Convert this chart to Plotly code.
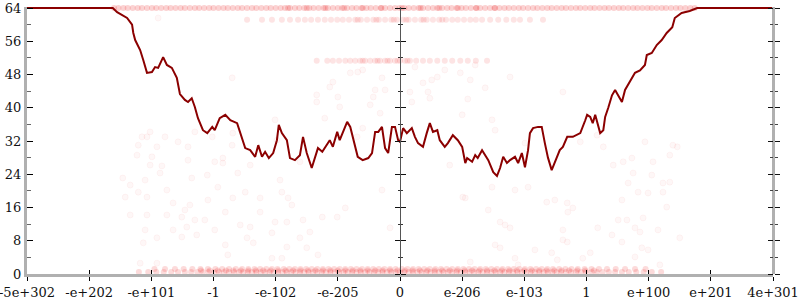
import plotly.graph_objects as go

# ---------------- data ----------------
TICK_VALS = [-6, -5, -4, -3, -2, -1, 0, 1, 2, 3, 4, 5, 6]
TICK_TEXT = ["-5e+302", "-e+202", "-e+101", "-1", "-e-102", "-e-205", "0",
             "e-206", "e-103", "1", "e+100", "e+201", "4e+301"]

LINE_X = [-6.0, -4.62, -4.55, -4.47, -4.39, -4.31, -4.29, -4.26, -4.18, -4.13, -4.07,
          -3.99, -3.94, -3.89, -3.81, -3.75, -3.67, -3.59, -3.54, -3.46, -3.41, -3.35,
          -3.30, -3.25, -3.22, -3.17, -3.10, -3.02, -2.98, -2.90, -2.81, -2.73, -2.62,
          -2.57, -2.49, -2.41, -2.33, -2.28, -2.22, -2.17, -2.11, -2.04, -1.98, -1.95,
          -1.90, -1.82, -1.77, -1.69, -1.61, -1.56, -1.50, -1.42, -1.37, -1.32, -1.25,
          -1.21, -1.13, -1.08, -1.01, -0.97, -0.85, -0.80, -0.76, -0.68, -0.60, -0.51,
          -0.45, -0.40, -0.35, -0.29, -0.24, -0.19, -0.13, -0.08, -0.03, 0.0, 0.05,
          0.11, 0.19, 0.24, 0.29, 0.37, 0.43, 0.48, 0.53, 0.60, 0.64, 0.72, 0.77, 0.85,
          0.93, 1.00, 1.05, 1.08, 1.16, 1.21, 1.25, 1.32, 1.42, 1.50, 1.56, 1.61, 1.66,
          1.72, 1.77, 1.85, 1.90, 1.96, 2.01, 2.06, 2.09, 2.14, 2.22, 2.28, 2.33, 2.38,
          2.44, 2.53, 2.57, 2.62, 2.69, 2.78, 2.90, 2.98, 3.01, 3.06, 3.10, 3.14, 3.22,
          3.27, 3.30, 3.35, 3.41, 3.46, 3.51, 3.57, 3.62, 3.70, 3.78, 3.86, 3.94, 3.97,
          4.05, 4.13, 4.21, 4.29, 4.38, 4.42, 4.53, 4.66, 4.78, 6.0]
LINE_Y = [64, 64, 63, 62.3, 61.6, 60, 58, 56.3, 53.9, 51.5, 48.4,
          48.6, 49.8, 49.6, 52.2, 50.3, 49.6, 47.2, 43.3, 41.9, 41.4, 42.3,
          40.2, 37.5, 36.3, 34.6, 33.9, 35.4, 34.6, 37.5, 38.3, 37, 36.3,
          33.9, 30.3, 29.8, 28.2, 31, 28.2, 29.4, 27.9, 29.1, 32.2, 35.9,
          33.9, 32.2, 27.9, 27.4, 28.6, 33, 29.1, 25.5, 28.2, 30.3, 29.4,
          30.3, 32.2, 30.6, 34.2, 32.2, 36.6, 35.4, 33, 28.2, 27.4, 27.9,
          29.1, 34.2, 34.2, 35.4, 30.3, 29.1, 35.4, 35.4, 32.2, 31.8, 35.1,
          33.9, 35.1, 33, 31.5, 30.6, 33.9, 36.3, 34.2, 34.6, 32.2, 30.6, 31.5, 33.4,
          32.2, 30.6, 26.7, 27.9, 27, 28.6, 27.9, 29.8, 27.4, 24.5, 23.6, 25.5, 28.2,
          26.7, 27.4, 28.2, 26.7, 29.1, 25.7, 29.8, 33.9, 35.1, 35.4, 35.4, 31.5, 28,
          25, 28.2, 29.8, 30.6, 33, 33, 33.9, 37, 38.3, 37.8, 36.3, 38.3, 33.9,
          34.6, 37.8, 40, 43, 44.3, 43, 41.4, 44.3, 46.2, 48.4, 49, 50.3, 52.7,
          53.2, 55.1, 56.3, 58, 59.4, 61.6, 62.8, 63.3, 64, 64]

BAND64_X = [-4.60, -4.53, -4.45, -4.38, -4.30, -4.22, -4.15, -4.07, -3.99, -3.92, -3.84,
            -3.76, -3.69, -3.61, -3.53, -3.46, -3.38, -3.30, -3.23, -3.15, -3.07, -3.00,
            -2.92, -2.84, -2.77, -2.69, -2.61, -2.54, -2.46, -2.38, -2.31, -2.23, -2.15,
            -2.08, -2.00, -1.92, -1.85, -1.77, -1.69, -1.62, -1.54, -1.46, -1.39, -1.31,
            -1.23, -1.16, -1.08, -1.00, -0.93, -0.85, -0.77, -0.70, -0.62, -0.54, -0.47,
            -0.39, -0.31, -0.24, -0.16, -0.08, -0.01, 0.07, 0.14, 0.22, 0.30, 0.37, 0.45,
            0.53, 0.60, 0.68, 0.76, 0.83, 0.91, 0.99, 1.06, 1.14, 1.22, 1.29, 1.37, 1.45,
            1.52, 1.60, 1.68, 1.75, 1.83, 1.91, 1.98, 2.06, 2.14, 2.21, 2.29, 2.37, 2.44,
            2.52, 2.60, 2.67, 2.75, 2.83, 2.90, 2.98, 3.06, 3.13, 3.21, 3.29, 3.36, 3.44,
            3.52, 3.59, 3.67, 3.75, 3.82, 3.90, 3.98, 4.05, 4.13, 4.21, 4.28, 4.36, 4.44,
            4.51, 4.59, 4.67, 4.74,
            -1.80, -1.50, -1.20, -0.90, -0.60, -0.30, 0.03, 0.33, 0.63, 0.93, 1.23, 1.53]
BAND64_Y = 64

BAND61_X = [-2.46, -2.22, -2.06, -1.90, -1.77, -1.64, -1.53, -1.43, -1.32, -1.21, -1.11,
            -1.01, -0.92, -0.82, -0.72, -0.63, -0.53, -0.43, -0.34, -0.24, -0.14, -0.05,
            0.05, 0.14, 0.24, 0.34, 0.43, 0.53, 0.63, 0.74, 0.84, 0.93, 1.03, 1.13, 1.22,
            1.32, 1.45, 1.58, 1.71, 1.83, 1.93, 2.09, 2.30,
            -0.68, -0.38, -0.10, 0.10, 0.38, 0.68]
BAND61_Y = 61.2

BAND51_X = [-1.34, -1.17, -1.08, -0.98, -0.88, -0.80, -0.72, -0.64, -0.56, -0.48, -0.40,
            -0.32, -0.24, -0.16, -0.08, 0.0, 0.08, 0.16, 0.26, 0.37, 0.48, 0.60, 0.72,
            0.84, 0.97, 1.09, 1.22, 1.40,
            -0.60, -0.36, -0.20, -0.04, 0.12]
BAND51_Y = 51.3

BAND0A_X = [-4.20, -4.05, -3.92, -3.80, -3.68, -3.57, -3.46, -3.36, -3.26, -3.17, -3.08,
            -2.99, -2.91, -2.83, -2.75, -2.67, -2.59, -2.52, -2.45, -2.38, -2.31, -2.24,
            -2.17, -2.10, -2.03, -1.96, -1.89, -1.82, -1.75, -1.68, -1.61, -1.54, -1.47,
            -1.40, -1.33, -1.26, -1.19, -1.12, -1.05, -0.98, -0.91, -0.84, -0.77, -0.70,
            -0.63, -0.56, -0.49, -0.42, -0.35, -0.28, -0.21, -0.14, -0.07, 0.00, 0.07,
            0.14, 0.21, 0.28, 0.35, 0.42, 0.49, 0.56, 0.63, 0.70, 0.77, 0.84, 0.91, 0.98,
            1.05, 1.12, 1.19, 1.26, 1.33, 1.40, 1.47, 1.54, 1.61, 1.68, 1.75, 1.82, 1.89,
            1.96, 2.03, 2.10, 2.17, 2.24, 2.31, 2.38, 2.45, 2.52, 2.59, 2.67, 2.75, 2.83,
            2.91, 2.99, 3.08, 3.17, 3.26, 3.36, 3.46, 3.57, 3.68, 3.80, 3.92, 4.05, 4.20]
BAND0A_Y = 0.5
BAND0B_X = [-3.95, -3.78, -3.62, -3.48, -3.34, -3.21, -3.09, -2.97, -2.86, -2.75, -2.64,
            -2.54, -2.44, -2.34, -2.25, -2.15, -2.06, -1.97, -1.87, -1.78, -1.69, -1.60,
            -1.51, -1.42, -1.33, -1.24, -1.15, -1.06, -0.97, -0.88, -0.79, -0.70, -0.61,
            -0.52, -0.43, -0.34, -0.25, -0.16, -0.07, 0.03, 0.12, 0.21, 0.30, 0.39, 0.48,
            0.57, 0.66, 0.75, 0.84, 0.93, 1.02, 1.11, 1.20, 1.29, 1.38, 1.47, 1.56, 1.65,
            1.74, 1.83, 1.92, 2.01, 2.10, 2.19, 2.28, 2.37, 2.46, 2.56, 2.66, 2.76, 2.86,
            2.97, 3.08, 3.20, 3.33, 3.47, 3.62, 3.78, 3.95]
BAND0B_Y = 1.2
BAND0C_X = [-3.20, -3.06, -2.93, -2.80, -2.68, -2.56, -2.44, -2.32, -2.20, -2.08, -1.96,
            -1.84, -1.72, -1.60, -1.48, -1.36, -1.24, -1.12, -1.00, -0.88, -0.76, -0.64,
            -0.52, -0.40, -0.28, -0.16, -0.04, 0.08, 0.20, 0.32, 0.44, 0.56, 0.68, 0.80,
            0.92, 1.04, 1.16, 1.28, 1.40, 1.52, 1.64, 1.76, 1.88, 2.00, 2.12, 2.24, 2.36,
            2.48, 2.60, 2.72, 2.85, 2.98, 3.12]
BAND0C_Y = 0.85

SCATTER_X = [-4.23, -3.99, -4.02, -3.83, -3.86, -4.46, -4.34, -4.10, -4.21, -4.42, -4.07,
             -3.75, -3.65, -3.38, -3.46, -3.51, -3.30, -4.07, -4.34, -3.75, -3.43, -4.10,
             -3.65, -3.51, -3.91, -4.13, -3.27, -4.18, -3.91, -3.41, -3.35,
             -2.98, -2.85, -3.10, -2.61, -2.41, -2.93, -2.49, -1.90, -2.25, -1.80, -3.09,
             -2.69, -2.81, -2.25, -1.74, -3.14, -2.57, -2.41, -1.82, -1.56, -2.01, -2.98,
             -2.46, -2.06, -1.61, -1.45, -2.81, -2.36, -1.82, -1.50, -2.77, -2.06, -1.90,
             -1.32, -1.25, -1.01, -0.88, -0.16, -0.29, -1.93, -1.61, -2.85,
             0.80, 1.05, 1.42, 1.48, 1.85, 1.61, 1.77, 1.69, 2.06, 2.36, 2.49, 2.69, 2.78,
             2.70, 3.18, 1.53, 1.61, 1.85, 2.17, 2.44, 2.53, 2.62, 2.69, 2.94, 3.06, 1.13,
             1.90, 1.01, 2.62,
             3.43, 3.59, 3.73, 4.07, 4.34, 3.75, 3.67, 4.05, 4.23, 4.34, 3.83, 3.99, 4.23,
             3.57, 4.29, 3.51, 3.65, 3.91, 3.78, 3.86, 4.15, 4.50, 3.41, 3.57, 3.89, 3.99,
             3.78, 4.18,
             -2.70, -2.01, -3.02, -2.69, -2.70, -1.21, -1.34, -1.34, -1.00, -0.97, -1.13,
             -1.08, -0.80, -0.68, -0.60, -0.29, -0.40, -0.24, -0.43, -0.48, -0.32, -0.60,
             -0.69, -1.98,
             0.24, 0.60, 0.51, 0.72, 0.97, 1.13, 1.21, 1.77, 0.16, 0.19, 0.45, 0.48, 1.37,
             1.09, 2.62, 1.00, 1.48, 1.53, 2.90, 3.17, 2.01, 0.37,
             -3.89, -4.02, -4.15, -4.07, -3.78, -4.21, -3.91, -3.57, -3.41, -3.30,
             3.27, 3.94, 4.39, 4.46]
SCATTER_Y = [28.6, 28.2, 26.2, 26.0, 24.3, 23.1, 21.4, 22.6, 19.7, 18.5, 18.5,
             20.2, 17.1, 16.6, 15.4, 13.7, 13.0, 14.2, 14.2, 14.2, 11.3, 10.6,
             10.6, 8.9, 8.7, 7.5, 9.4, 2.6, 2.6, 27.4, 23.1,
             27.0, 26.7, 23.8, 24.3, 26.2, 20.9, 19.7, 19.7, 18.3, 18.3, 17.8,
             18.3, 14.9, 14.9, 16.6, 13.0, 11.8, 11.3, 12.5, 13.0, 12.5, 10.6,
             8.7, 9.9, 8.7, 10.1, 7.0, 7.5, 6.5, 6.3, 4.6, 3.8, 3.8,
             4.6, 13.7, 13.7, 15.9, 11.1, 20.2, 22.6, 27.0, 27.9,
             26.2, 18.3, 15.4, 20.9, 20.2, 12.5, 11.1, 11.8, 20.9, 17.3, 17.8, 17.1, 15.9,
             14.9, 11.1, 7.0, 6.3, 3.8, 5.8, 5.1, 3.4, 8.2, 7.7, 3.8, 5.1, 2.9,
             2.2, 18.5, 10.6,
             26.2, 27.0, 27.9, 27.0, 28.6, 24.3, 21.9, 23.8, 21.9, 22.1, 19.7, 19.5, 19.7,
             17.8, 16.1, 13.0, 13.0, 13.5, 11.1, 10.1, 10.6, 8.7, 9.4, 7.7, 6.3, 5.8,
             4.1, 2.2,
             47.2, 37.1, 33.0, 33.9, 31.0, 37.5, 43.1, 41.4, 42.6, 40.2, 45.0,
             46.2, 48.4, 48.6, 49.1, 47.2, 44.3, 44.3, 42.6, 40.7, 38.7, 35.1,
             33.0, 32.2,
             49.8, 47.4, 46.7, 49.1, 48.4, 46.7, 50.3, 47.4, 43.8, 41.4, 43.8, 42.3, 44.8,
             42.1, 43.8, 38.3, 37.1, 34.6, 31.8, 33.4, 31.5, 46.0,
             61.6, 34.2, 33.0, 33.0, 33.0, 31.0, 30.6, 31.8, 30.6, 34.2,
             30.6, 31.8, 31.0, 30.6]

# ---------------- figure ----------------
fig = go.Figure()

faint = dict(size=6, color="rgba(235,40,40,0.04)",
             line=dict(color="rgba(235,40,40,0.045)", width=1))
band_soft = dict(size=6, color="rgba(235,30,30,0.12)", line=dict(width=0))
band_strong = dict(size=6, color="rgba(235,30,30,0.2)", line=dict(width=0))
band_low = dict(size=6, color="rgba(235,30,30,0.16)", line=dict(width=0))

fig.add_trace(go.Scatter(x=SCATTER_X, y=SCATTER_Y, mode="markers", marker=faint,
                         showlegend=False, hoverinfo="skip"))
for bx, by, mk in [(BAND64_X, BAND64_Y, band_strong), (BAND61_X, BAND61_Y, band_soft),
                   (BAND51_X, BAND51_Y, band_soft), (BAND0A_X, BAND0A_Y, band_low),
                   (BAND0B_X, BAND0B_Y, band_low), (BAND0C_X, BAND0C_Y, band_low)]:
    fig.add_trace(go.Scatter(x=bx, y=[by] * len(bx), mode="markers", marker=mk,
                             cliponaxis=False, showlegend=False, hoverinfo="skip"))

fig.add_trace(go.Scatter(x=LINE_X, y=LINE_Y, mode="lines",
                         line=dict(color="#8b0000", width=2), showlegend=False))

# dummy traces so the extra axes are rendered
for ya in ["y3", "y4", "y5", "y6"]:
    fig.add_trace(go.Scatter(x=[None], y=[None], yaxis=ya, showlegend=False))
fig.add_trace(go.Scatter(x=[None], y=[None], xaxis="x2", showlegend=False))

tickfont = dict(family="DejaVu Serif", size=13, color="#111")
AXGRAY = "#b0b0b0"
YR = [0, 64.25]

common_y = dict(range=YR, tickmode="linear", tick0=0, dtick=8, showgrid=False,
                zeroline=False, automargin=False)

fig.update_layout(
    template="none",
    width=800, height=300,
    margin=dict(l=27, r=27, t=7, b=26),
    plot_bgcolor="white", paper_bgcolor="white",
    xaxis=dict(range=[-6, 6], tickmode="array", tickvals=TICK_VALS, ticktext=TICK_TEXT,
               ticks="outside", ticklen=4, tickcolor="#000", tickwidth=1,
               showline=True, linecolor=AXGRAY, linewidth=3, ticklabeloverflow="allow",
               showgrid=False, zeroline=False, tickfont=tickfont, automargin=False),
    xaxis2=dict(range=[-6, 6], overlaying="x", anchor="y", side="bottom",
                tickmode="array", tickvals=TICK_VALS, ticks="inside", ticklen=4,
                tickcolor="#000", showticklabels=False, showline=False,
                showgrid=False, zeroline=False, automargin=False),
    yaxis=dict(**common_y, ticks="inside", ticklen=6, tickcolor="#000",
               minor=dict(dtick=4, ticks="inside", ticklen=4, tickcolor="#666"),
               showline=True, linecolor=AXGRAY, linewidth=3, tickfont=tickfont,
               ticklabeloverflow="allow"),
    yaxis3=dict(**common_y, overlaying="y", anchor="free", position=0.5, side="left",
                ticks="outside", ticklen=5, tickcolor="#111",
                minor=dict(dtick=4, ticks="outside", ticklen=2, tickcolor="#333"),
                showline=True, linecolor="#555", linewidth=1, showticklabels=False),
    yaxis4=dict(**common_y, overlaying="y", anchor="free", position=0.5, side="right",
                ticks="outside", ticklen=5, tickcolor="#111",
                minor=dict(dtick=4, ticks="outside", ticklen=2, tickcolor="#333"),
                showline=False, showticklabels=False),
    yaxis5=dict(**common_y, overlaying="y", anchor="free", position=1, side="right",
                ticks="outside", ticklen=5, tickcolor="#111",
                minor=dict(dtick=4, ticks="outside", ticklen=3, tickcolor="#444"),
                showline=True, linecolor=AXGRAY, linewidth=3, showticklabels=False),
    yaxis6=dict(**common_y, overlaying="y", anchor="free", position=1, side="left",
                ticks="outside", ticklen=5, tickcolor="#111",
                minor=dict(dtick=4, ticks="outside", ticklen=3, tickcolor="#444"),
                showline=False, showticklabels=False),
)

fig.write_html("out.html")
